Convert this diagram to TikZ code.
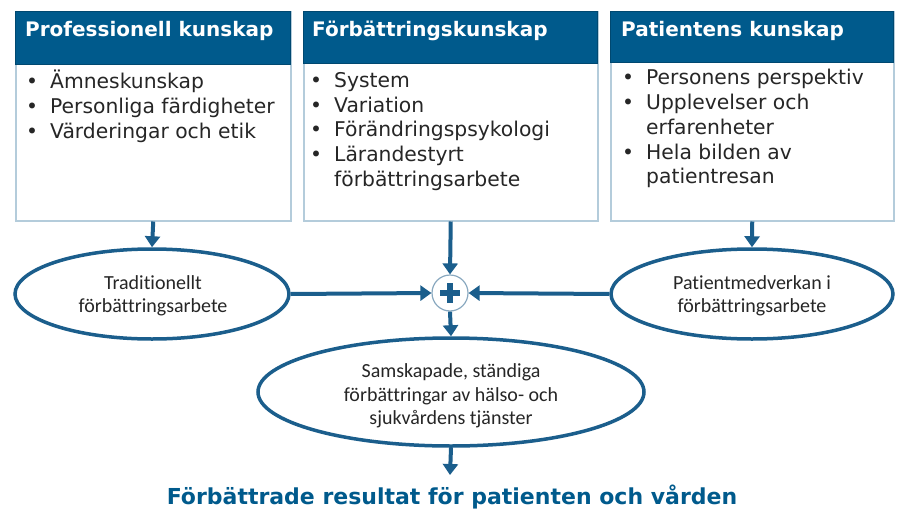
\documentclass[tikz,border=0pt]{standalone}
\usepackage{fontspec}
\setmainfont{DejaVu Sans}
\newfontfamily\calfont[Ligatures={NoCommon}]{Carlito}
\usetikzlibrary{arrows.meta,shapes.geometric}
\definecolor{hdr}{HTML}{005A8C}
\definecolor{arr}{HTML}{1B5E8C}
\definecolor{bord}{HTML}{B4CCDB}
\definecolor{txt}{HTML}{262626}
\definecolor{ring}{HTML}{8AA9C0}
\newcommand{\bitem}[1]{\makebox[24pt][l]{\textbullet}#1}
\newcommand{\bcont}[1]{\hspace*{24pt}#1}
\begin{document}
\begin{tikzpicture}[x=1pt,y=-1pt,
  bodybox/.style={draw=bord,line width=1.5pt,fill=white,anchor=north west,inner sep=0pt},
  hdrbox/.style={fill=hdr,draw=hdr!80!black,line width=0.8pt,anchor=north west,inner sep=0pt},
  hdrtext/.style={anchor=west,inner sep=0pt,text=white,font=\fontsize{20}{24}\selectfont\bfseries},
  listtext/.style={anchor=north west,inner sep=0pt,align=left,text=txt,font=\fontsize{20.3}{24.8}\selectfont},
  oval/.style={ellipse,draw=arr,line width=3.5pt,fill=white,inner sep=0pt},
  ovaltext/.style={inner sep=0pt,align=center,text=txt,font=\calfont\fontsize{20}{23.5}\selectfont},
  flow/.style={draw=arr,line width=4pt,-{Triangle[length=11pt,width=15pt]}},
]
\useasboundingbox (0,0) rectangle (907,519);

% boxes
\node[bodybox,minimum width=275pt,minimum height=209pt] (b1) at (15,11) {};
\node[hdrbox,minimum width=275pt,minimum height=53pt] (h1) at (15,11) {};
\node[bodybox,minimum width=294pt,minimum height=209pt] (b2) at (303,11) {};
\node[hdrbox,minimum width=294pt,minimum height=52pt] (h2) at (303,11) {};
\node[bodybox,minimum width=283pt,minimum height=209pt] (b3) at (610,11) {};
\node[hdrbox,minimum width=283pt,minimum height=51pt] (h3) at (610,11) {};

\node[hdrtext] (t1) at (25,31) {Professionell kunskap};
\node[hdrtext] (t2) at (312,31) {Förbättringskunskap};
\node[hdrtext] (t3) at (621,31) {Patientens kunskap};

\node[listtext] (l1) at (26,70) {\bitem{Ämneskunskap}\\ \bitem{Personliga färdigheter}\\ \bitem{Värderingar och etik}};
\node[listtext] (l2) at (310,72) {\bitem{System}\\ \bitem{Variation}\\ \bitem{Förändringspsykologi}\\ \bitem{Lärandestyrt}\\ \bcont{förbättringsarbete}};
\node[listtext] (l3) at (622,69) {\bitem{Personens perspektiv}\\ \bitem{Upplevelser och}\\ \bcont{erfarenheter}\\ \bitem{Hela bilden av}\\ \bcont{patientresan}};

% ovals
\node[oval,minimum width=274pt,minimum height=90pt] (e1) at (152,294) {};
\node[oval,minimum width=282pt,minimum height=90pt] (e3) at (752,294) {};
\node[oval,minimum width=386pt,minimum height=108pt] (e2) at (451,392) {};
\node[ovaltext] (e1t) at (153,296) {Traditionellt\\förbättringsarbete};
\node[ovaltext] (e3t) at (752,296) {Patientmedverkan i\\förbättringsarbete};
\node[ovaltext] (e2t) at (451,396) {Samskapade, ständiga\\förbättringar av hälso- och\\sjukvårdens tjänster};

% plus
\node[circle,draw=ring,line width=1.2pt,fill=white,minimum size=36pt,inner sep=0pt] (plus) at (450,293) {};
\fill[arr] ([shift={(-10,-3.2)}]plus.center) rectangle ([shift={(10,3.2)}]plus.center);
\fill[arr] ([shift={(-3.2,-10)}]plus.center) rectangle ([shift={(3.2,10)}]plus.center);

% result
\node[inner sep=0pt,text=hdr,font=\fontsize{22}{26}\selectfont\bfseries] (res) at (452,497) {Förbättrade resultat för patienten och vården};
\coordinate (resin) at (450,475);

% connectors
\draw[flow] (b1.south) -- (e1.north);
\draw[flow] (b3.south) -- (e3.north);
\draw[flow] (b2.south) -- (plus.north);
\draw[flow] (e1.east) -- (plus.west);
\draw[flow] (e3.west) -- (plus.east);
\draw[flow] (plus.south) -- (e2.north);
\draw[flow] (e2.south) -- (resin);
\end{tikzpicture}
\end{document}
